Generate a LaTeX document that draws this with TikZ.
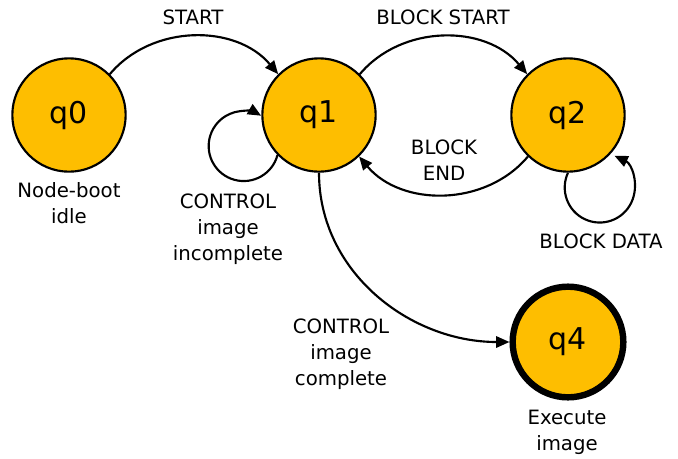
\documentclass[tikz,border=0pt]{standalone}
\usepackage{fontspec}
\setmainfont{DejaVu Sans}
\usetikzlibrary{arrows.meta}
\definecolor{stategold}{RGB}{254,190,0}
\begin{document}
\begin{tikzpicture}[x=0.75pt,y=-0.75pt,
  state/.style={circle,draw=black,line width=1.6pt,fill=stategold,
    minimum size=85pt,inner sep=0pt,font=\fontsize{22.5}{26}\selectfont},
  accept/.style={state,line width=4.8pt,minimum size=83pt},
  lbl/.style={align=center,inner sep=0pt,font=\fontsize{14.8}{19.4}\selectfont},
  arr/.style={line width=1.6pt,-{Triangle[length=10pt,width=8.5pt]}}]
  \useasboundingbox (0,0) rectangle (678,458);

  % states
  \node[state]  (q0) at (69,115)  {q0};
  \node[state]  (q1) at (319,115) {q1};
  \node[state]  (q2) at (568,115) {q2};
  \node[accept] (q4) at (568,342) {q4};

  % state captions
  \node[lbl] (c0) at (69,203)  {Node-boot\\idle};
  \node[lbl] (c4) at (567,432) {Execute\\image};

  % transitions
  \draw[arr] (q0.45) to[bend left=50] (q1.135);
  \draw[arr] (q1.45) to[bend left=50] (q2.135);
  \draw[arr] (q2.226) to[bend left=50] (q1.314);
  \draw[arr] (q1.224) arc[start angle=-15,end angle=-300,radius=26.25pt];
  \draw[arr] (q2.270) arc[start angle=155,end angle=425,radius=26.25pt];
  \draw[arr] (q1.270) to[out=-90,in=180] (q4.180);

  % transition labels
  \node[lbl] (tStart)  at (193,17)  {START};
  \node[lbl] (tBStart) at (443,17)  {BLOCK START};
  \node[lbl] (tBEnd)   at (444,160) {BLOCK\\END};
  \node[lbl] (tInc)    at (228,229) {CONTROL\\image\\incomplete};
  \node[lbl] (tData)   at (601,241) {BLOCK DATA};
  \node[lbl] (tComp)   at (341,354) {CONTROL\\image\\complete};
\end{tikzpicture}
\end{document}
